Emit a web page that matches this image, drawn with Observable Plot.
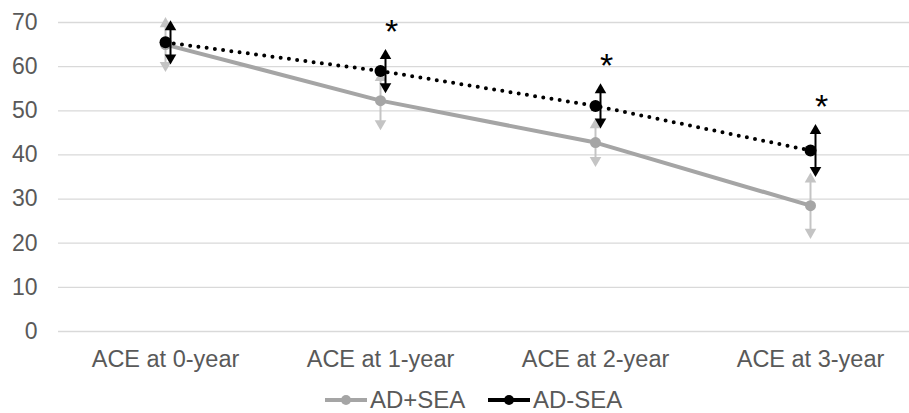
<!DOCTYPE html>
<html><head><meta charset="utf-8">
<script src="https://cdn.jsdelivr.net/npm/d3@7"></script>
<script src="https://cdn.jsdelivr.net/npm/@observablehq/plot@0.6"></script>
<style>
body{margin:0;background:#fff;font-family:"Liberation Sans",Arial,sans-serif;overflow:hidden;}
#chart{width:909px;height:385px;}
#legend{position:relative;width:909px;height:28px;color:#595959;font-size:24px;}
.item{position:absolute;top:3px;height:24px;display:flex;align-items:center;}
.item span{line-height:24px;}
.item svg{display:block;}
</style></head><body>
<div id="chart"></div>
<div id="legend"></div>
<script>
const categories = ["ACE at 0-year", "ACE at 1-year", "ACE at 2-year", "ACE at 3-year"];
const seriesNames = ["AD+SEA", "AD-SEA"];
const adPlusSea = [65.0, 52.3, 42.8, 28.5];
const adPlusSeaErr = [6.2, 6.7, 5.5, 7.5];
const adMinusSea = [65.5, 59.0, 51.1, 41.0];
const adMinusSeaErr = [5.0, 5.0, 5.1, 6.0];
const significance = ["", "*", "*", "*"];
const yTicks = [0, 10, 20, 30, 40, 50, 60, 70];

const rows = categories.map((c, i) => ({
  cat: c,
  a: adPlusSea[i], ae: adPlusSeaErr[i],
  b: adMinusSea[i], be: adMinusSeaErr[i],
  sig: significance[i]
}));

const grayLine = "#a5a5a5";
const grayErr = "#c4c4c4";
const txt = "#595959";

const plot = Plot.plot({
  width: 909, height: 385,
  marginTop: 22, marginBottom: 54, marginLeft: 58, marginRight: 0,
  style: {fontFamily: "Liberation Sans, Arial, sans-serif", background: "#fff", color: txt},
  x: {type: "point", domain: categories, range: [164, 811], padding: 0},
  y: {domain: [0, 70]},
  marks: [
    Plot.ruleY(yTicks, {stroke: "#d9d9d9", strokeWidth: 1.3}),
    Plot.axisY(yTicks, {tickSize: 0, tickPadding: 21, fontSize: 23, fill: txt, label: null}),
    Plot.axisX({tickSize: 0, tickPadding: 19, fontSize: 23.5, fill: txt, label: null}),
    // AD+SEA
    Plot.line(rows, {x: "cat", y: "a", stroke: grayLine, strokeWidth: 4}),
    Plot.ruleX(rows, {x: "cat", y1: d => d.a - d.ae + 1, y2: d => d.a + d.ae - 1, stroke: grayErr, strokeWidth: 2}),
    Plot.dot(rows, {x: "cat", y: d => d.a + d.ae, symbol: "triangle", r: 4.3, fill: grayErr, dy: 6.6}),
    Plot.dot(rows, {x: "cat", y: d => d.a - d.ae, symbol: "triangle", rotate: 180, r: 4.3, fill: grayErr, dy: -6.6}),
    Plot.dot(rows, {x: "cat", y: "a", r: 5.5, fill: grayLine}),
    // AD-SEA
    Plot.line(rows, {x: "cat", y: "b", stroke: "#000", strokeWidth: 4, strokeDasharray: "0 8.3", strokeLinecap: "round"}),
    Plot.ruleX(rows, {x: "cat", y1: d => d.b - d.be + 1, y2: d => d.b + d.be - 1, stroke: "#000", strokeWidth: 2, dx: 5}),
    Plot.dot(rows, {x: "cat", y: d => d.b + d.be, symbol: "triangle", r: 4.3, fill: "#000", dx: 5, dy: 6.6}),
    Plot.dot(rows, {x: "cat", y: d => d.b - d.be, symbol: "triangle", rotate: 180, r: 4.3, fill: "#000", dx: 5, dy: -6.6}),
    Plot.dot(rows, {x: "cat", y: "b", r: 6, fill: "#000"}),
    // significance markers
    Plot.text(rows.filter(d => d.sig), {x: "cat", y: d => d.b + d.be, text: "sig", dx: 11, dy: -17, fontSize: 34, fill: "#000"})
  ]
});
document.getElementById("chart").appendChild(plot);

// legend
const legend = document.getElementById("legend");
const legendItems = [
  {name: seriesNames[0], color: grayLine, left: 325},
  {name: seriesNames[1], color: "#000", left: 488}
];
for (const it of legendItems) {
  const div = document.createElement("div");
  div.className = "item";
  div.style.left = it.left + "px";
  div.innerHTML = `<svg width="42" height="12"><line x1="0" x2="42" y1="6" y2="6" stroke="${it.color}" stroke-width="4"/><circle cx="21" cy="6" r="5" fill="${it.color}"/></svg><span style="margin-left:3px">${it.name}</span>`;
  legend.appendChild(div);
}
</script>
</body></html>
